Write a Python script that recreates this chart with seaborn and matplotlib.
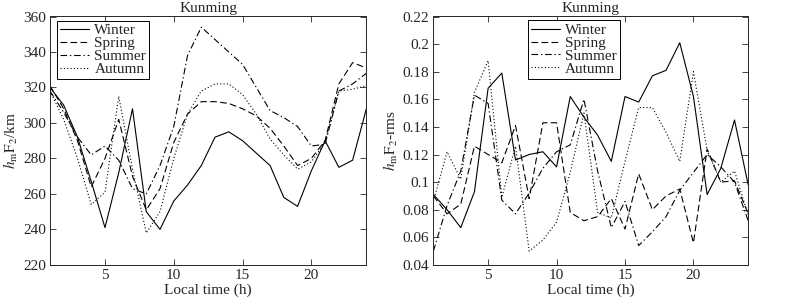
import matplotlib
matplotlib.use("Agg")
from matplotlib import pyplot as plt
from matplotlib.ticker import FormatStrFormatter
import seaborn as sns
import pandas as pd

# ---------------- data ----------------
hours = list(range(1, 25))
seasons = ["Winter", "Spring", "Summer", "Autumn"]

# hmF2 (km)
hm_winter = [320, 310, 292, 267, 241, 272, 308, 250, 240, 256, 265, 276,
             292, 295, 290, 283, 276, 258, 253, 273, 290, 275, 279, 308]
hm_spring = [321, 308, 290, 264, 280, 302, 270, 251, 263, 289, 305, 312,
             312, 311, 308, 304, 297, 287, 276, 280, 290, 322, 334, 331]
hm_summer = [318, 306, 292, 282, 287, 279, 263, 260, 276, 298, 338, 354,
             347, 340, 333, 320, 307, 303, 298, 287, 288, 318, 322, 328]
hm_autumn = [318, 302, 280, 254, 261, 315, 274, 238, 250, 280, 305, 318,
             322, 322, 316, 305, 291, 282, 274, 278, 289, 318, 319, 321]

# hmF2 rms
rms_winter = [0.091, 0.080, 0.067, 0.093, 0.168, 0.179, 0.116, 0.120, 0.122, 0.111, 0.162, 0.147,
              0.134, 0.115, 0.162, 0.158, 0.177, 0.181, 0.201, 0.162, 0.091, 0.110, 0.145, 0.098]
rms_spring = [0.090, 0.077, 0.084, 0.126, 0.120, 0.114, 0.141, 0.088, 0.143, 0.143, 0.078, 0.072,
              0.075, 0.088, 0.066, 0.106, 0.080, 0.090, 0.095, 0.056, 0.124, 0.100, 0.101, 0.077]
rms_summer = [0.050, 0.083, 0.108, 0.163, 0.157, 0.087, 0.077, 0.092, 0.110, 0.122, 0.127, 0.160,
              0.108, 0.067, 0.086, 0.054, 0.064, 0.075, 0.094, 0.107, 0.120, 0.111, 0.100, 0.072]
rms_autumn = [0.086, 0.122, 0.102, 0.165, 0.188, 0.089, 0.126, 0.050, 0.058, 0.071, 0.107, 0.150,
              0.078, 0.074, 0.115, 0.154, 0.154, 0.136, 0.115, 0.180, 0.123, 0.100, 0.108, 0.076]

hm = pd.DataFrame({"Winter": hm_winter, "Spring": hm_spring,
                   "Summer": hm_summer, "Autumn": hm_autumn}, index=hours)
rms = pd.DataFrame({"Winter": rms_winter, "Spring": rms_spring,
                    "Summer": rms_summer, "Autumn": rms_autumn}, index=hours)

styles = {"Winter": "-", "Spring": (0, (6, 3)), "Summer": (0, (6, 2.5, 1.2, 2.5)), "Autumn": (0, (1, 2))}

# ---------------- style ----------------
sns.set_style("ticks")
plt.rcParams["font.family"] = ["Liberation Serif", "DejaVu Serif"]
plt.rcParams["mathtext.fontset"] = "stix"
plt.rcParams["font.size"] = 11
plt.rcParams["axes.linewidth"] = 0.7

fig = plt.figure(figsize=(7.93, 3.0), dpi=100)
ax1 = fig.add_axes([0.063, 0.117, 0.399, 0.828])
ax2 = fig.add_axes([0.5465, 0.117, 0.397, 0.828])

leg_kw = dict(frameon=True, fancybox=False, edgecolor="k", framealpha=1,
              fontsize=11, handlelength=1.9, labelspacing=-0.05, borderpad=0.2,
              handletextpad=0.35)


def draw(ax, df):
    for s in seasons:
        sns.lineplot(x=df.index, y=df[s], ax=ax, color="k", linewidth=0.8,
                     linestyle=styles[s], label=s)
    ax.set_xlim(1, 24)
    ax.set_xticks([5, 10, 15, 20])
    ax.set_xlabel("Local time (h)", labelpad=1)
    ax.set_title("Kunming", fontsize=11, pad=3)
    ax.tick_params(direction="in", top=True, right=True, length=4, width=0.6,
                   labelsize=11, pad=3)


# left panel
draw(ax1, hm)
ax1.set_ylim(220, 360)
ax1.set_yticks(range(220, 361, 20))
ax1.set_ylabel(r"$h_{\mathrm{m}}\mathrm{F}_2$/km", labelpad=2)
ax1.legend(loc="upper left", bbox_to_anchor=(0.022, 0.983), borderaxespad=0,
           **leg_kw).get_frame().set_linewidth(0.7)

# right panel
draw(ax2, rms)
ax2.set_ylim(0.04, 0.22)
ax2.set_yticks([0.04, 0.06, 0.08, 0.1, 0.12, 0.14, 0.16, 0.18, 0.2, 0.22])
ax2.yaxis.set_major_formatter(FormatStrFormatter("%g"))
ax2.set_ylabel(r"$h_{\mathrm{m}}\mathrm{F}_2$-rms", labelpad=2)
ax2.legend(loc="upper left", bbox_to_anchor=(0.30, 0.985), borderaxespad=0,
           **leg_kw).get_frame().set_linewidth(0.7)

fig.savefig("out.png", dpi=100, facecolor="white")
